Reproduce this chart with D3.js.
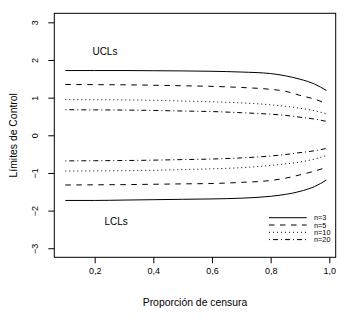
<!DOCTYPE html>
<html>
<head>
<meta charset="utf-8">
<script src="https://cdn.jsdelivr.net/npm/d3@7"></script>
<style>
  body { margin: 0; background: #fff; }
  text { font-family: "Liberation Sans", Arial, sans-serif; fill: #000; }
</style>
</head>
<body>
<div id="chart"></div>
<script>
// proportion of censoring
const censura = [0.1, 0.2, 0.3, 0.4, 0.5, 0.6, 0.7, 0.8, 0.85, 0.9, 0.95, 0.99];

const ucl3  = [1.72, 1.72, 1.72, 1.715, 1.71, 1.70, 1.68, 1.64, 1.58, 1.49, 1.36, 1.19];
const lcl3  = [-1.73, -1.73, -1.72, -1.71, -1.70, -1.69, -1.67, -1.62, -1.57, -1.49, -1.36, -1.19];
const ucl5  = [1.35, 1.345, 1.34, 1.33, 1.315, 1.30, 1.27, 1.22, 1.17, 1.06, 0.96, 0.84];
const lcl5  = [-1.32, -1.315, -1.31, -1.30, -1.29, -1.28, -1.25, -1.20, -1.14, -1.05, -0.95, -0.85];
const ucl10 = [0.95, 0.945, 0.94, 0.93, 0.91, 0.89, 0.86, 0.81, 0.77, 0.72, 0.65, 0.57];
const lcl10 = [-0.95, -0.945, -0.94, -0.93, -0.91, -0.89, -0.86, -0.80, -0.76, -0.71, -0.63, -0.54];
const ucl20 = [0.68, 0.675, 0.67, 0.66, 0.645, 0.63, 0.60, 0.56, 0.53, 0.48, 0.43, 0.37];
const lcl20 = [-0.68, -0.675, -0.67, -0.66, -0.645, -0.63, -0.60, -0.55, -0.51, -0.46, -0.41, -0.35];

const seriesNames = ['n=3', 'n=5', 'n=10', 'n=20'];
const xTicks = [0.2, 0.4, 0.6, 0.8, 1.0];
const yTicks = [-3, -2, -1, 0, 1, 2, 3];

const width = 353;
const height = 324;
const box = { left: 54.3, top: 13.3, right: 335.7, bottom: 257.3 };

// R lty 1..4
const dashes = ['none', '5.5,5.5', '1,3', '1,3,5,3'];

const svg = d3.select('#chart')
  .append('svg')
  .attr('width', width)
  .attr('height', height);

const x = d3.scaleLinear().domain([0.0624, 1.0218]).range([box.left, box.right]);
const y = d3.scaleLinear().domain([-3.24, 3.24]).range([box.bottom, box.top]);

const fmt = (d) => d3.format('.1f')(d).replace('.', ',');

// x axis
const xAxis = svg.append('g')
  .attr('transform', `translate(0,${box.bottom})`)
  .call(d3.axisBottom(x).tickValues(xTicks).tickSize(6).tickFormat(fmt));
xAxis.select('.domain').remove();
xAxis.selectAll('line').attr('stroke', '#000');
xAxis.selectAll('text')
  .attr('y', 17)
  .attr('dy', null)
  .style('font-size', '9px')
  .style('font-family', '"Liberation Sans", Arial, sans-serif');

// y axis with labels parallel to the axis
const yAxis = svg.append('g')
  .attr('transform', `translate(${box.left},0)`)
  .call(d3.axisLeft(y).tickValues(yTicks).tickSize(6).tickFormat(d3.format('d')));
yAxis.select('.domain').remove();
yAxis.selectAll('line').attr('stroke', '#000');
yAxis.selectAll('text')
  .attr('x', null)
  .attr('dy', null)
  .attr('text-anchor', 'middle')
  .attr('transform', 'translate(-16,0) rotate(-90)')
  .style('font-size', '9px')
  .style('font-family', '"Liberation Sans", Arial, sans-serif');

// plot box
svg.append('rect')
  .attr('x', box.left)
  .attr('y', box.top)
  .attr('width', box.right - box.left)
  .attr('height', box.bottom - box.top)
  .attr('fill', 'none')
  .attr('stroke', '#000')
  .attr('stroke-width', 1);

const line = d3.line()
  .x((d) => x(d[0]))
  .y((d) => y(d[1]))
  .curve(d3.curveMonotoneX);

const groups = [[ucl3, lcl3], [ucl5, lcl5], [ucl10, lcl10], [ucl20, lcl20]];

groups.forEach((pair, i) => {
  pair.forEach((vals) => {
    svg.append('path')
      .datum(censura.map((c, j) => [c, vals[j]]))
      .attr('d', line)
      .attr('fill', 'none')
      .attr('stroke', '#000')
      .attr('stroke-width', 1)
      .attr('stroke-dasharray', dashes[i]);
  });
});

// annotations
svg.append('text')
  .attr('x', x(0.235))
  .attr('y', y(2.22) + 3.6)
  .attr('text-anchor', 'middle')
  .style('font-size', '10px')
  .text('UCLs');

svg.append('text')
  .attr('x', x(0.273))
  .attr('y', y(-2.28) + 3.6)
  .attr('text-anchor', 'middle')
  .style('font-size', '10px')
  .text('LCLs');

// legend (no box)
const legend = svg.append('g')
  .attr('transform', 'translate(269,217.7)');

seriesNames.forEach((name, i) => {
  const row = legend.append('g').attr('transform', `translate(0,${i * 7.3})`);
  row.append('line')
    .attr('x1', 0)
    .attr('x2', 37.7)
    .attr('y1', 0)
    .attr('y2', 0)
    .attr('stroke', '#000')
    .attr('stroke-width', 1)
    .attr('stroke-dasharray', dashes[i]);
  row.append('text')
    .attr('x', 45)
    .attr('y', 2.6)
    .style('font-size', '7.3px')
    .text(name);
});

// axis titles
svg.append('text')
  .attr('x', (box.left + box.right) / 2)
  .attr('y', 305.5)
  .attr('text-anchor', 'middle')
  .style('font-size', '10.4px')
  .text('Proporción de censura');

svg.append('text')
  .attr('transform', `translate(17,${(box.top + box.bottom) / 2}) rotate(-90)`)
  .attr('text-anchor', 'middle')
  .style('font-size', '10.4px')
  .text('Límites de Control');
</script>
</body>
</html>
